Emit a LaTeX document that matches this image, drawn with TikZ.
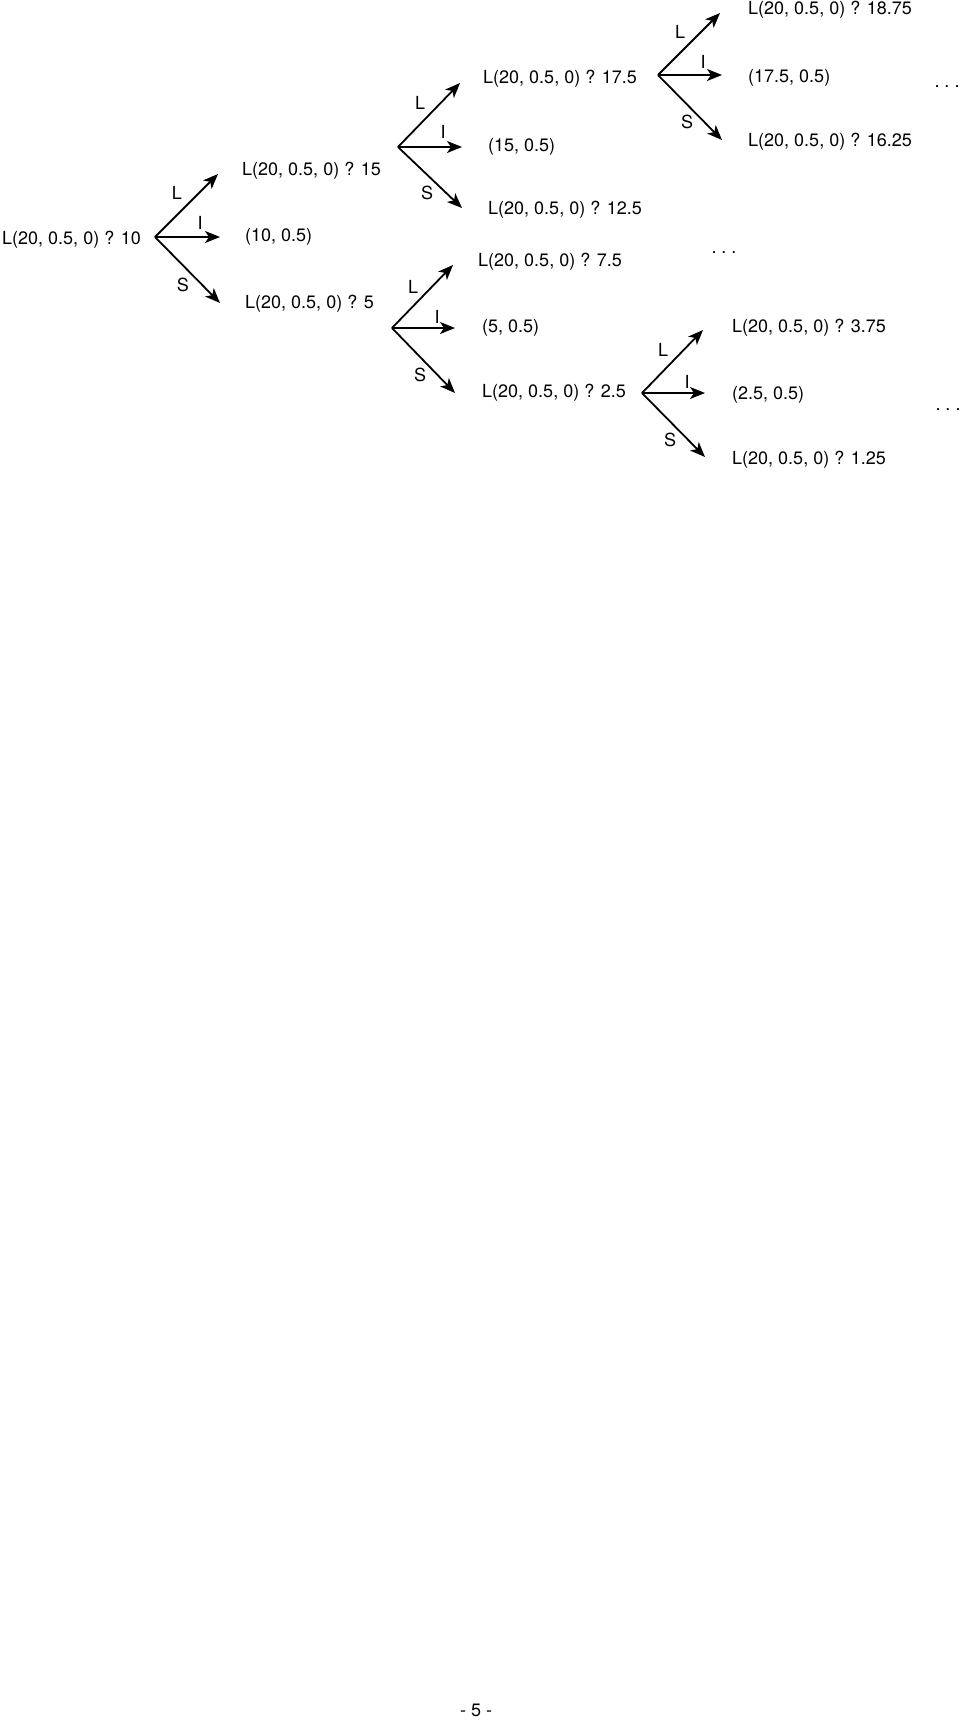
\documentclass[tikz,border=0pt]{standalone}
\usepackage{fontspec}
\setmainfont{TeX Gyre Heros}
\usetikzlibrary{arrows.meta}
\tikzset{>={Stealth[length=15pt,width=12pt,inset=4pt]}}
\tikzset{
  leaf/.style={anchor=west, inner sep=0pt},
  branch/.style={->, line width=1.8pt},
  tag/.style={inner sep=0pt}
}
\newcommand{\moredots}{.\hspace{5pt}.\hspace{5pt}.}

\begin{document}
\begin{tikzpicture}[x=1pt,y=-1pt,font=\fontsize{18}{21}\selectfont]
  \useasboundingbox (0,0) rectangle (960,1725);
  % first fork
  \node[leaf] (root) at (2, 240) {L(20, 0.5, 0) ? 10};
  \coordinate (fa) at (155, 237);
  \coordinate (fal) at (218, 174);
  \coordinate (fai) at (220, 237);
  \coordinate (fas) at (220, 303);
  \draw[branch] (fa) to (fal);
  \draw[branch] (fa) to (fai);
  \draw[branch] (fa) to (fas);
  \node[tag] (la) at (177, 193) {L};
  \node[tag] (ia) at (200, 223) {I};
  \node[tag] (sa) at (183, 285) {S};
  \node[leaf] (a1) at (242, 171) {L(20, 0.5, 0) ? 15};
  \node[leaf] (a2) at (245, 237) {(10, 0.5)};
  \node[leaf] (a3) at (245, 304) {L(20, 0.5, 0) ? 5};
  % fork after 15
  \coordinate (fb) at (398, 147);
  \coordinate (fbl) at (460, 83);
  \coordinate (fbi) at (462, 147);
  \coordinate (fbs) at (462, 208);
  \draw[branch] (fb) to (fbl);
  \draw[branch] (fb) to (fbi);
  \draw[branch] (fb) to (fbs);
  \node[tag] (lb) at (420, 103) {L};
  \node[tag] (ib) at (443, 132) {I};
  \node[tag] (sb) at (427, 193) {S};
  \node[leaf] (b1) at (483, 79) {L(20, 0.5, 0) ? 17.5};
  \node[leaf] (b2) at (488, 147) {(15, 0.5)};
  \node[leaf] (b3) at (488, 210) {L(20, 0.5, 0) ? 12.5};
  % fork after 5
  \coordinate (fc) at (392, 328);
  \coordinate (fcl) at (453, 265);
  \coordinate (fci) at (455, 328);
  \coordinate (fcs) at (455, 393);
  \draw[branch] (fc) to (fcl);
  \draw[branch] (fc) to (fci);
  \draw[branch] (fc) to (fcs);
  \node[tag] (lc) at (413, 287) {L};
  \node[tag] (ic) at (437, 317) {I};
  \node[tag] (sc) at (420, 375) {S};
  \node[leaf] (c1) at (478, 262) {L(20, 0.5, 0) ? 7.5};
  \node[leaf] (c2) at (482, 328) {(5, 0.5)};
  \node[leaf] (c3) at (482, 393) {L(20, 0.5, 0) ? 2.5};
  % fork after 17.5
  \coordinate (fd) at (658, 75);
  \coordinate (fdl) at (720, 13);
  \coordinate (fdi) at (722, 75);
  \coordinate (fds) at (722, 140);
  \draw[branch] (fd) to (fdl);
  \draw[branch] (fd) to (fdi);
  \draw[branch] (fd) to (fds);
  \node[tag] (ld) at (680, 32) {L};
  \node[tag] (id) at (703, 62) {I};
  \node[tag] (sd) at (687, 122) {S};
  \node[leaf] (d1) at (748, 10) {L(20, 0.5, 0) ? 18.75};
  \node[leaf] (d2) at (748, 78) {(17.5, 0.5)};
  \node[leaf] (d3) at (748, 142) {L(20, 0.5, 0) ? 16.25};
  \node[tag] (dotsd) at (947, 87) {\moredots};
  % fork after 2.5
  \coordinate (fe) at (642, 393);
  \coordinate (fel) at (703, 330);
  \coordinate (fei) at (705, 393);
  \coordinate (fes) at (705, 457);
  \draw[branch] (fe) to (fel);
  \draw[branch] (fe) to (fei);
  \draw[branch] (fe) to (fes);
  \node[tag] (le) at (663, 350) {L};
  \node[tag] (ie) at (687, 382) {I};
  \node[tag] (se) at (670, 440) {S};
  \node[leaf] (e1) at (732, 328) {L(20, 0.5, 0) ? 3.75};
  \node[leaf] (e2) at (732, 395) {(2.5, 0.5)};
  \node[leaf] (e3) at (732, 460) {L(20, 0.5, 0) ? 1.25};
  \node[tag] (dotsc) at (724, 253) {\moredots};
  \node[tag] (dotse) at (948, 410) {\moredots};
  % page number
  \node[tag] (page) at (476, 1710) {- 5 -};
\end{tikzpicture}
\end{document}
